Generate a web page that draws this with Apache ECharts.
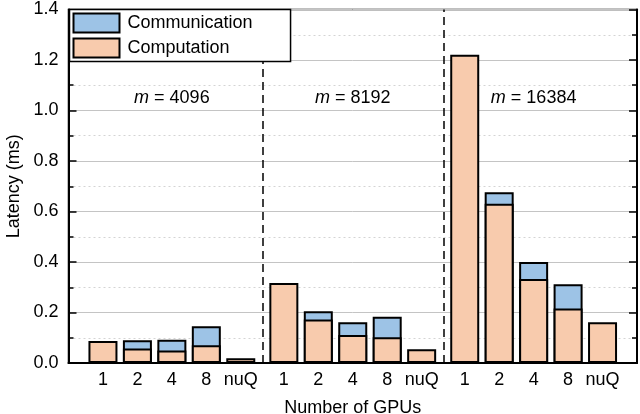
<!DOCTYPE html>
<html>
<head>
<meta charset="utf-8">
<script src="https://cdn.jsdelivr.net/npm/echarts@6/dist/echarts.min.js"></script>
<style>
html,body{margin:0;padding:0;background:#fff;}
#c{width:640px;height:414px;}
</style>
</head>
<body>
<div id="c"></div>
<script>
// ---- data ----
const gpuLabels = ['1', '2', '4', '8', 'nuQ'];
const groupLabels = ['4096', '8192', '16384'];
const computation = [
  0.087, 0.057, 0.050, 0.070, 0.019,
  0.317, 0.172, 0.111, 0.102, 0.054,
  1.221, 0.631, 0.333, 0.216, 0.161
];
const communication = [
  0, 0.033, 0.042, 0.076, 0,
  0, 0.033, 0.050, 0.081, 0,
  0, 0.045, 0.067, 0.096, 0
];
const yTicks = [0, 0.2, 0.4, 0.6, 0.8, 1.0, 1.2, 1.4];

// ---- layout ----
const groupStride = gpuLabels.length + 0.25;
const FONT = "'Liberation Sans', Arial, sans-serif";
const pos = [];
const labelMap = {};
groupLabels.forEach((g, gi) => {
  gpuLabels.forEach((lab, i) => {
    const p = gi * groupStride + i;
    pos.push(p);
    labelMap[Math.round(p * 4)] = lab;
  });
});
const dividers = groupLabels.slice(1).map((g, gi) => ({ xAxis: (gi + 1) * groupStride - 0.625 }));
const annot = groupLabels.map((g, gi) => ({
  coord: [gi * groupStride + 2, 1.05],
  value: g
}));

// total = computation + communication (communication sits on top)
const totalData = computation.map((v, i) => [pos[i], communication[i] > 0 ? +(v + communication[i]).toFixed(4) : '-']);
const compData = computation.map((v, i) => [pos[i], v]);

const chart = echarts.init(document.getElementById('c'));
const yCommon = {
  type: 'value', min: yTicks[0], max: yTicks[yTicks.length - 1], interval: 0.2,
  axisLine: { show: true, onZero: false, lineStyle: { color: '#000', width: 2 } },
  axisTick: { show: true, inside: true, length: 8, lineStyle: { color: '#000', width: 1.5 } },
  minorTick: { show: true, splitNumber: 2, length: 5, lineStyle: { color: '#000', width: 1.5 } }
};
chart.setOption({
  animation: false,
  textStyle: { fontFamily: FONT },
  grid: { left: 68.5, right: 3, top: 9.5, bottom: 51, outerBoundsMode: 'none', containLabel: false,
          show: true, borderColor: '#000', borderWidth: 1.5, backgroundColor: 'transparent' },
  legend: {
    orient: 'vertical', left: 69.5, top: 9.5,
    data: ['Communication', 'Computation'],
    icon: 'rect',
    itemWidth: 46, itemHeight: 19, itemGap: 4,
    padding: [3, 38, 3, 3],
    borderColor: '#000', borderWidth: 1.5, backgroundColor: '#fff',
    textStyle: { fontSize: 18, color: '#000', fontFamily: FONT, padding: [0, 0, 0, 3] },
    z: 10
  },
  xAxis: [{
    type: 'value', min: -1, max: 15.5, interval: 0.25,
    name: 'Number of GPUs', nameLocation: 'middle', nameGap: 36,
    nameTextStyle: { fontSize: 18, color: '#000', fontFamily: FONT },
    axisLine: { show: true, onZero: false, lineStyle: { color: '#000', width: 2 } },
    axisTick: { show: false },
    splitLine: { show: false },
    axisLabel: {
      fontSize: 18, color: '#000', margin: 8, fontFamily: FONT,
      showMinLabel: true, showMaxLabel: true,
      formatter: v => labelMap[Math.round(v * 4)] || ''
    }
  }],
  yAxis: [Object.assign({}, yCommon, {
    position: 'left',
    name: 'Latency (ms)', nameLocation: 'middle', nameGap: 44,
    nameTextStyle: { fontSize: 18, color: '#000', fontFamily: FONT },
    axisLabel: { fontSize: 18, color: '#000', margin: 10, fontFamily: FONT, formatter: v => v.toFixed(1) },
    splitLine: { show: true, lineStyle: { color: '#c4c4c4', width: 1 } },
    minorSplitLine: { show: true, lineStyle: { color: '#d4d4d4', width: 1, type: [2, 3] } }
  }), Object.assign({}, yCommon, {
    position: 'right',
    axisLabel: { show: false },
    splitLine: { show: false }
  })],
  series: [{
    name: 'Communication', type: 'bar', barWidth: 29, barGap: '-100%',
    data: totalData,
    itemStyle: { color: '#9DC3E6', borderColor: '#000', borderWidth: 2 }
  }, {
    name: 'Computation', type: 'bar', barWidth: 29, barGap: '-100%',
    data: compData,
    itemStyle: { color: '#F8CBAD', borderColor: '#000', borderWidth: 2 },
    markLine: {
      silent: true, symbol: 'none', label: { show: false },
      lineStyle: { color: '#000', width: 1.5, type: [8, 5] },
      data: dividers
    },
    markPoint: {
      symbol: 'circle', symbolSize: 0,
      label: {
        show: true, position: 'inside', color: '#000', fontSize: 18, fontFamily: FONT,
        formatter: p => '{i|m} = ' + p.value,
        rich: { i: { fontStyle: 'italic', fontSize: 18, fontFamily: FONT, color: '#000' } }
      },
      data: annot
    }
  }]
});
</script>
</body>
</html>
